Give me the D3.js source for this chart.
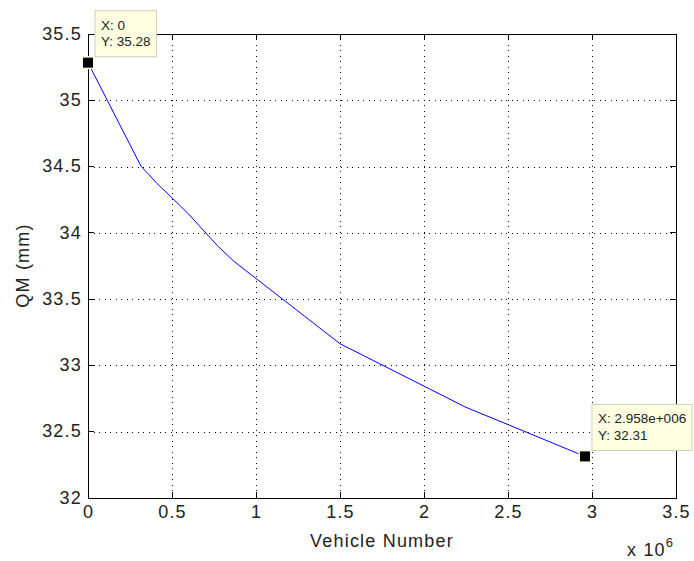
<!DOCTYPE html>
<meta charset="utf-8">
<style>
    body { margin: 0; background: #fff; }
    .axis text {
        font-family: "Liberation Sans", Arial, sans-serif;
        font-size: 18px;
        letter-spacing: 1.2px;
        fill: #222;
    }
    .axis path, .axis line { stroke: #000; shape-rendering: crispEdges; }
    .grid line { stroke: #000; stroke-dasharray: 1,4.5; shape-rendering: crispEdges; }
    .lbl { font-family: "Liberation Sans", Arial, sans-serif; font-size: 18px; letter-spacing: 1.2px; fill: #222; }
    .tip text { font-family: "Liberation Sans", Arial, sans-serif; font-size: 13.5px; fill: #222; }
</style>

<div id="chart"></div>

<script src="https://cdn.jsdelivr.net/npm/d3@7"></script>

<script>
    // data (vehicle number in units of 1e6)
    var vehicles = [0, 0.315, 0.41, 0.59, 0.77, 0.87, 1.5, 2.0, 2.25, 2.5, 2.958];
    var qm = [35.28, 34.5, 34.37, 34.15, 33.9, 33.78, 33.16, 32.84, 32.68, 32.55, 32.31];
    var xTicks = [0, 0.5, 1, 1.5, 2, 2.5, 3, 3.5];
    var yTicks = [32, 32.5, 33, 33.5, 34, 34.5, 35, 35.5];
    // data tips: index into the series and their text lines
    var tipIndex = [0, 10];
    var tipLines = [["X: 0", "Y: 35.28"], ["X: 2.958e+006", "Y: 32.31"]];

    var svgW = 694, svgH = 561;
    var margin = {top: 33.5, right: 18, bottom: 63.5, left: 88},
        width = svgW - margin.left - margin.right,
        height = svgH - margin.top - margin.bottom;

    var data = vehicles.map(function(v, i) { return {x: v * 1e6, y: qm[i]}; });

    var svg = d3.select("#chart").append("svg")
        .attr("width", svgW)
        .attr("height", svgH);

    var g = svg.append("g")
        .attr("transform", "translate(" + margin.left + "," + margin.top + ")");

    var x = d3.scaleLinear().domain([0, 3.5e6]).range([0, width]);
    var y = d3.scaleLinear().domain([32, 35.5]).range([height, 0]);

    // dotted grid
    var grid = g.append("g").attr("class", "grid");
    grid.selectAll(".gx").data(xTicks.slice(1, -1)).enter().append("line")
        .attr("x1", function(d) { return Math.round(x(d * 1e6)) + 0.5; })
        .attr("x2", function(d) { return Math.round(x(d * 1e6)) + 0.5; })
        .attr("y1", 0).attr("y2", height);
    grid.selectAll(".gy").data(yTicks.slice(1, -1)).enter().append("line")
        .attr("y1", function(d) { return Math.round(y(d)) + 0.5; })
        .attr("y2", function(d) { return Math.round(y(d)) + 0.5; })
        .attr("x1", 0).attr("x2", width);

    // axes with inward ticks, mirrored on top / right
    var xAxis = d3.axisBottom(x).tickValues(xTicks.map(function(d) { return d * 1e6; }))
        .tickSizeInner(-6).tickSizeOuter(0).tickPadding(8)
        .tickFormat(function(d) { return d3.format("")(d / 1e6); });
    var yAxis = d3.axisLeft(y).tickValues(yTicks)
        .tickSizeInner(-6).tickSizeOuter(0).tickPadding(6)
        .tickFormat(d3.format(""));

    g.append("g").attr("class", "x axis")
        .attr("transform", "translate(0," + height + ")")
        .call(xAxis);
    g.append("g").attr("class", "y axis").call(yAxis);
    g.append("g").attr("class", "axis")
        .call(d3.axisTop(x).tickValues(xTicks.map(function(d) { return d * 1e6; }))
            .tickSizeInner(-6).tickSizeOuter(0).tickFormat(""));
    g.append("g").attr("class", "axis")
        .attr("transform", "translate(" + width + ",0)")
        .call(d3.axisRight(y).tickValues(yTicks).tickSizeInner(-6).tickSizeOuter(0).tickFormat(""));

    g.selectAll(".x.axis .tick text").attr("dy", "0.71em");

    // line
    var line = d3.line().x(function(d) { return x(d.x); }).y(function(d) { return y(d.y); });
    g.append("path").datum(data)
        .attr("d", line)
        .attr("fill", "none")
        .attr("stroke", "#0000ff")
        .attr("stroke-width", 1);

    // axis labels
    svg.append("text").attr("class", "lbl")
        .attr("x", margin.left + width / 2).attr("y", 547)
        .attr("text-anchor", "middle")
        .text("Vehicle Number");
    svg.append("text").attr("class", "lbl")
        .attr("transform", "translate(29," + (margin.top + height / 2) + ") rotate(-90)")
        .attr("text-anchor", "middle")
        .text("QM (mm)");
    var ex = svg.append("text").attr("class", "lbl")
        .attr("x", 627).attr("y", 556);
    ex.append("tspan").text("x 10");
    ex.append("tspan").attr("dy", -9).attr("font-size", 13).text("6");

    // data tips
    tipIndex.forEach(function(idx, k) {
        var d = data[idx];
        var px = x(d.x), py = y(d.y);
        var tip = g.append("g").attr("class", "tip");
        var bx = px + 7, by = py - 52;
        var rect = tip.append("rect")
            .attr("x", bx).attr("y", by).attr("height", 46)
            .attr("fill", "#ffffe1").attr("stroke", "#cfcfc0");
        var maxW = 0;
        tipLines[k].forEach(function(t, j) {
            var tt = tip.append("text")
                .attr("x", bx + 6).attr("y", by + 19 + j * 16.5)
                .text(t);
            maxW = Math.max(maxW, tt.node().getComputedTextLength());
        });
        rect.attr("width", maxW + 12);
        tip.append("rect")
            .attr("x", px - 6.5).attr("y", py - 6.5)
            .attr("width", 13).attr("height", 13)
            .attr("fill", "#ffffe1");
        tip.append("rect")
            .attr("x", px - 5).attr("y", py - 5)
            .attr("width", 10).attr("height", 10)
            .attr("fill", "#000");
    });
</script>
